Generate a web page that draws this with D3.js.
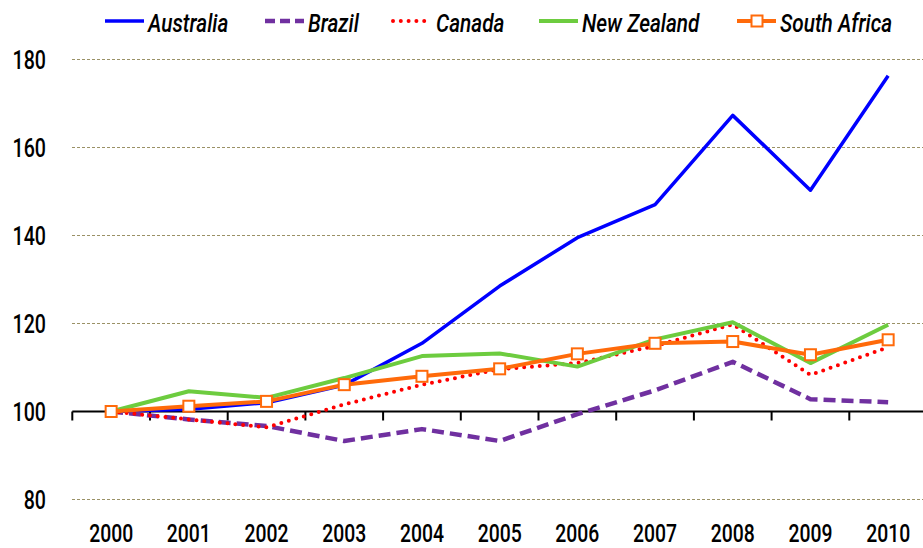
<!DOCTYPE html>
<html>
<head>
<meta charset="utf-8">
<script src="https://cdn.jsdelivr.net/npm/d3@7"></script>
<style>
  body { margin: 0; background: #fff; }
  svg { display: block; }
  text { font-family: Roboto, "Liberation Sans", Arial, sans-serif; font-weight: 500; fill: #000; }
</style>
</head>
<body>
<div id="chart"></div>
<script>
// data (index, 2000 = 100)
const years = ["2000", "2001", "2002", "2003", "2004", "2005", "2006", "2007", "2008", "2009", "2010"];
const australia   = [100, 100.5, 102, 106, 115.5, 128.5, 139.5, 147, 167.3, 150.3, 176.3];
const brazil      = [100, 98.2, 96.7, 93.3, 96, 93.3, 99.4, 104.8, 111.3, 102.8, 102.1];
const canada      = [100, 98.2, 96.4, 101.6, 106.1, 109.6, 111, 114.9, 119.8, 108.3, 114.6];
const newZealand  = [100, 104.6, 103.1, 107.6, 112.6, 113.2, 110.2, 116.4, 120.3, 111, 119.7];
const southAfrica = [100, 101.2, 102.3, 106.1, 108, 109.7, 113.1, 115.5, 115.9, 112.9, 116.3];
const yTicks = [80, 100, 120, 140, 160, 180];

const series = [
  { name: "Australia",    values: australia,   color: "#0000ff", width: 3.5, dash: null },
  { name: "Brazil",       values: brazil,      color: "#7030a0", width: 4.5, dash: "12 6" },
  { name: "Canada",       values: canada,      color: "#ff0000", width: 4,   dash: "0 7.8", cap: "round" },
  { name: "New Zealand",  values: newZealand,  color: "#6dcc3f", width: 4,   dash: null },
  { name: "South Africa", values: southAfrica, color: "#ff6a0a", width: 4,   dash: null, marker: true }
];

const width = 923, height = 548;

const svg = d3.select("#chart")
  .append("svg")
  .attr("width", width)
  .attr("height", height);

// X scale -> years (band, points at centers)
const x = d3.scaleBand()
  .domain(years)
  .range([72.3, 72.3 + 11 * 77.7]);

// Y scale
const y = d3.scaleLinear()
  .domain([80, 180])
  .range([499.5, 59.5]);

const cx = d => x(d) + x.bandwidth() / 2;

// gridlines (not at 100, the axis sits there)
svg.append("g")
  .selectAll("line")
  .data(yTicks.filter(t => t !== 100))
  .join("line")
  .attr("x1", 72)
  .attr("x2", width)
  .attr("y1", d => y(d))
  .attr("y2", d => y(d))
  .attr("stroke", "#9a9166")
  .attr("stroke-width", 1)
  .attr("stroke-dasharray", "3 2");

// y labels (condensed look by squeezing horizontally)
svg.append("g")
  .selectAll("text")
  .data(yTicks)
  .join("text")
  .attr("transform", d => `translate(46,${y(d)}) scale(0.74,1)`)
  .attr("dy", "0.36em")
  .attr("text-anchor", "end")
  .style("font-size", "26.5px")
  .text(d => d);

// x axis crossing at 100
const xAxis = svg.append("g")
  .attr("transform", `translate(0,${y(100)})`);
xAxis.append("line")
  .attr("x1", x.range()[0])
  .attr("x2", width)
  .attr("stroke", "#000")
  .attr("stroke-width", 2);
xAxis.selectAll("line.tick")
  .data(years)
  .join("line")
  .attr("class", "tick")
  .attr("x1", d => x(d))
  .attr("x2", d => x(d))
  .attr("y1", 0)
  .attr("y2", 9)
  .attr("stroke", "#000")
  .attr("stroke-width", 2);

// year labels at the bottom
svg.append("g")
  .selectAll("text")
  .data(years)
  .join("text")
  .attr("transform", d => `translate(${cx(d)},542) scale(0.76,1)`)
  .attr("text-anchor", "middle")
  .style("font-size", "25.5px")
  .text(d => d);

// lines
const line = d3.line()
  .x((d, i) => cx(years[i]))
  .y(d => y(d));

series.forEach(s => {
  svg.append("path")
    .datum(s.values)
    .attr("fill", "none")
    .attr("stroke", s.color)
    .attr("stroke-width", s.width)
    .attr("stroke-linejoin", "round")
    .attr("stroke-linecap", s.cap || "butt")
    .attr("stroke-dasharray", s.dash)
    .attr("d", line);

  if (s.marker) {
    svg.append("g")
      .selectAll("rect")
      .data(s.values)
      .join("rect")
      .attr("x", (d, i) => cx(years[i]) - 5.5)
      .attr("y", d => y(d) - 5.5)
      .attr("width", 11)
      .attr("height", 11)
      .attr("fill", "#fff")
      .attr("stroke", s.color)
      .attr("stroke-width", 2);
  }
});

// legend
const legendX = [105, 265, 393, 539, 737];
const legend = svg.append("g");
series.forEach((s, i) => {
  const g = legend.append("g").attr("transform", `translate(${legendX[i]},21)`);
  g.append("line")
    .attr("x1", 0).attr("x2", 39)
    .attr("stroke", s.color)
    .attr("stroke-width", s.width)
    .attr("stroke-linecap", s.cap || "butt")
    .attr("stroke-dasharray", s.dash ? (s.cap ? "0 7.8" : "10 5") : null);
  if (s.marker) {
    g.append("rect")
      .attr("x", 14.5).attr("y", -5.5)
      .attr("width", 11).attr("height", 11)
      .attr("fill", "#fff")
      .attr("stroke", s.color)
      .attr("stroke-width", 2);
  }
  g.append("text")
    .attr("transform", "translate(43,10.5) scale(0.8,1)")
    .style("font-size", "26px")
    .style("font-style", "italic")
    .text(s.name);
});
</script>
</body>
</html>
